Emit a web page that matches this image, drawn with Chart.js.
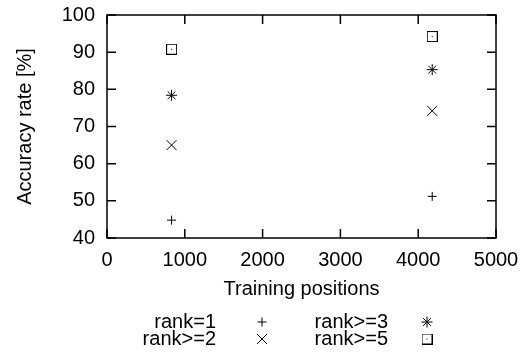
<!DOCTYPE html>
<html>
<head>
<meta charset="utf-8">
<script src="https://cdn.jsdelivr.net/npm/chart.js@4/dist/chart.umd.min.js"></script>
<style>
  html, body { margin: 0; padding: 0; background: #fff; }
  #wrap { width: 526px; height: 354px; }
</style>
</head>
<body>
<div id="wrap"><canvas id="c" width="526" height="354"></canvas></div>
<script>
// Training set sizes and accuracy rates per rank threshold
const trainingPositions = [830, 4180];
const rankLabels = ['rank=1', 'rank>=2', 'rank>=3', 'rank>=5'];
const rank1 = [44.8, 51.2];
const rank2 = [65.0, 74.2];
const rank3 = [78.4, 85.3];
const rank5 = [90.8, 94.2];
const xTicks = [0, 1000, 2000, 3000, 4000, 5000];
const yTicks = [40, 50, 60, 70, 80, 90, 100];

const FONT = '"Liberation Sans", Arial, Helvetica, sans-serif';
const FONT_SIZE = 20;

// open square with a centre dot
function boxDot() {
  const c = document.createElement('canvas');
  c.width = 11; c.height = 11;
  const g = c.getContext('2d');
  g.strokeStyle = '#000';
  g.lineWidth = 1;
  g.strokeRect(0.5, 0.5, 10, 10);
  g.fillStyle = '#000';
  g.fillRect(5, 5, 1, 1);
  return c;
}

const seriesValues = [rank1, rank2, rank3, rank5];
const styles = [
  { pointStyle: 'cross', radius: 4.5 },
  { pointStyle: 'crossRot', radius: 7 },
  { pointStyle: 'star', radius: 5.5 },
  { pointStyle: boxDot(), radius: 5.5 }
];

const datasets = seriesValues.map((vals, i) => ({
  label: rankLabels[i],
  data: vals.map((v, j) => ({ x: trainingPositions[j], y: v })),
  showLine: false,
  pointStyle: styles[i].pointStyle,
  pointRadius: styles[i].radius,
  pointHoverRadius: styles[i].radius,
  borderColor: '#000',
  backgroundColor: 'rgba(0,0,0,0)',
  borderWidth: 1
}));

const framePlugin = {
  id: 'frame',
  afterDraw(chart) {
    const { ctx, chartArea: a, scales } = chart;
    ctx.save();
    ctx.strokeStyle = '#000';
    ctx.lineWidth = 1.5;
    ctx.strokeRect(a.left, a.top, a.right - a.left, a.bottom - a.top);
    const tl = 9;
    ctx.beginPath();
    xTicks.forEach(t => {
      const x = scales.x.getPixelForValue(t);
      ctx.moveTo(x, a.bottom); ctx.lineTo(x, a.bottom - tl);
      ctx.moveTo(x, a.top); ctx.lineTo(x, a.top + tl);
    });
    yTicks.forEach(t => {
      const y = scales.y.getPixelForValue(t);
      ctx.moveTo(a.left, y); ctx.lineTo(a.left + tl, y);
      ctx.moveTo(a.right, y); ctx.lineTo(a.right - tl, y);
    });
    ctx.stroke();

    // axis titles
    ctx.fillStyle = '#000';
    ctx.font = FONT_SIZE + 'px ' + FONT;
    ctx.textAlign = 'center';
    ctx.textBaseline = 'middle';
    ctx.fillText('Training positions', (a.left + a.right) / 2, 289);
    ctx.save();
    ctx.translate(25, (a.top + a.bottom) / 2);
    ctx.rotate(-Math.PI / 2);
    ctx.fillText('Accuracy rate [%]', 0, 0);
    ctx.restore();

    // key: two columns, two rows
    const textRight = [216, 388];
    const symX = [262, 427];
    const rowY = [322, 339];
    ctx.textAlign = 'right';
    chart.data.datasets.forEach((ds, i) => {
      const col = Math.floor(i / 2), row = i % 2;
      ctx.fillStyle = '#000';
      ctx.fillText(ds.label, textRight[col], rowY[row]);
      ctx.strokeStyle = '#000';
      ctx.lineWidth = 1;
      Chart.helpers.drawPoint(ctx, {
        pointStyle: ds.pointStyle,
        radius: ds.pointRadius,
        rotation: 0,
        borderWidth: 1
      }, symX[col], rowY[row]);
    });
    ctx.restore();
  }
};

new Chart(document.getElementById('c'), {
  type: 'scatter',
  data: { datasets },
  options: {
    responsive: false,
    animation: false,
    devicePixelRatio: 1,
    layout: { padding: { left: 0, top: 15, right: 30, bottom: 0 } },
    plugins: { legend: { display: false }, tooltip: { enabled: false } },
    scales: {
      x: {
        type: 'linear',
        min: 0, max: 5000,
        afterBuildTicks(s) { s.ticks = xTicks.map(v => ({ value: v })); },
        afterFit(s) { s.height = 116; s.paddingLeft = 0; s.paddingRight = 0; },
        grid: { display: false, drawTicks: false },
        border: { display: false },
        ticks: { color: '#000', padding: 10, maxRotation: 0, callback: v => String(v), font: { family: FONT, size: FONT_SIZE } }
      },
      y: {
        type: 'linear',
        min: 40, max: 100,
        afterBuildTicks(s) { s.ticks = yTicks.map(v => ({ value: v })); },
        afterFit(s) { s.width = 107; s.paddingTop = 0; s.paddingBottom = 0; },
        grid: { display: false, drawTicks: false },
        border: { display: false },
        ticks: { color: '#000', padding: 12, font: { family: FONT, size: FONT_SIZE } }
      }
    }
  },
  plugins: [framePlugin]
});
</script>
</body>
</html>
